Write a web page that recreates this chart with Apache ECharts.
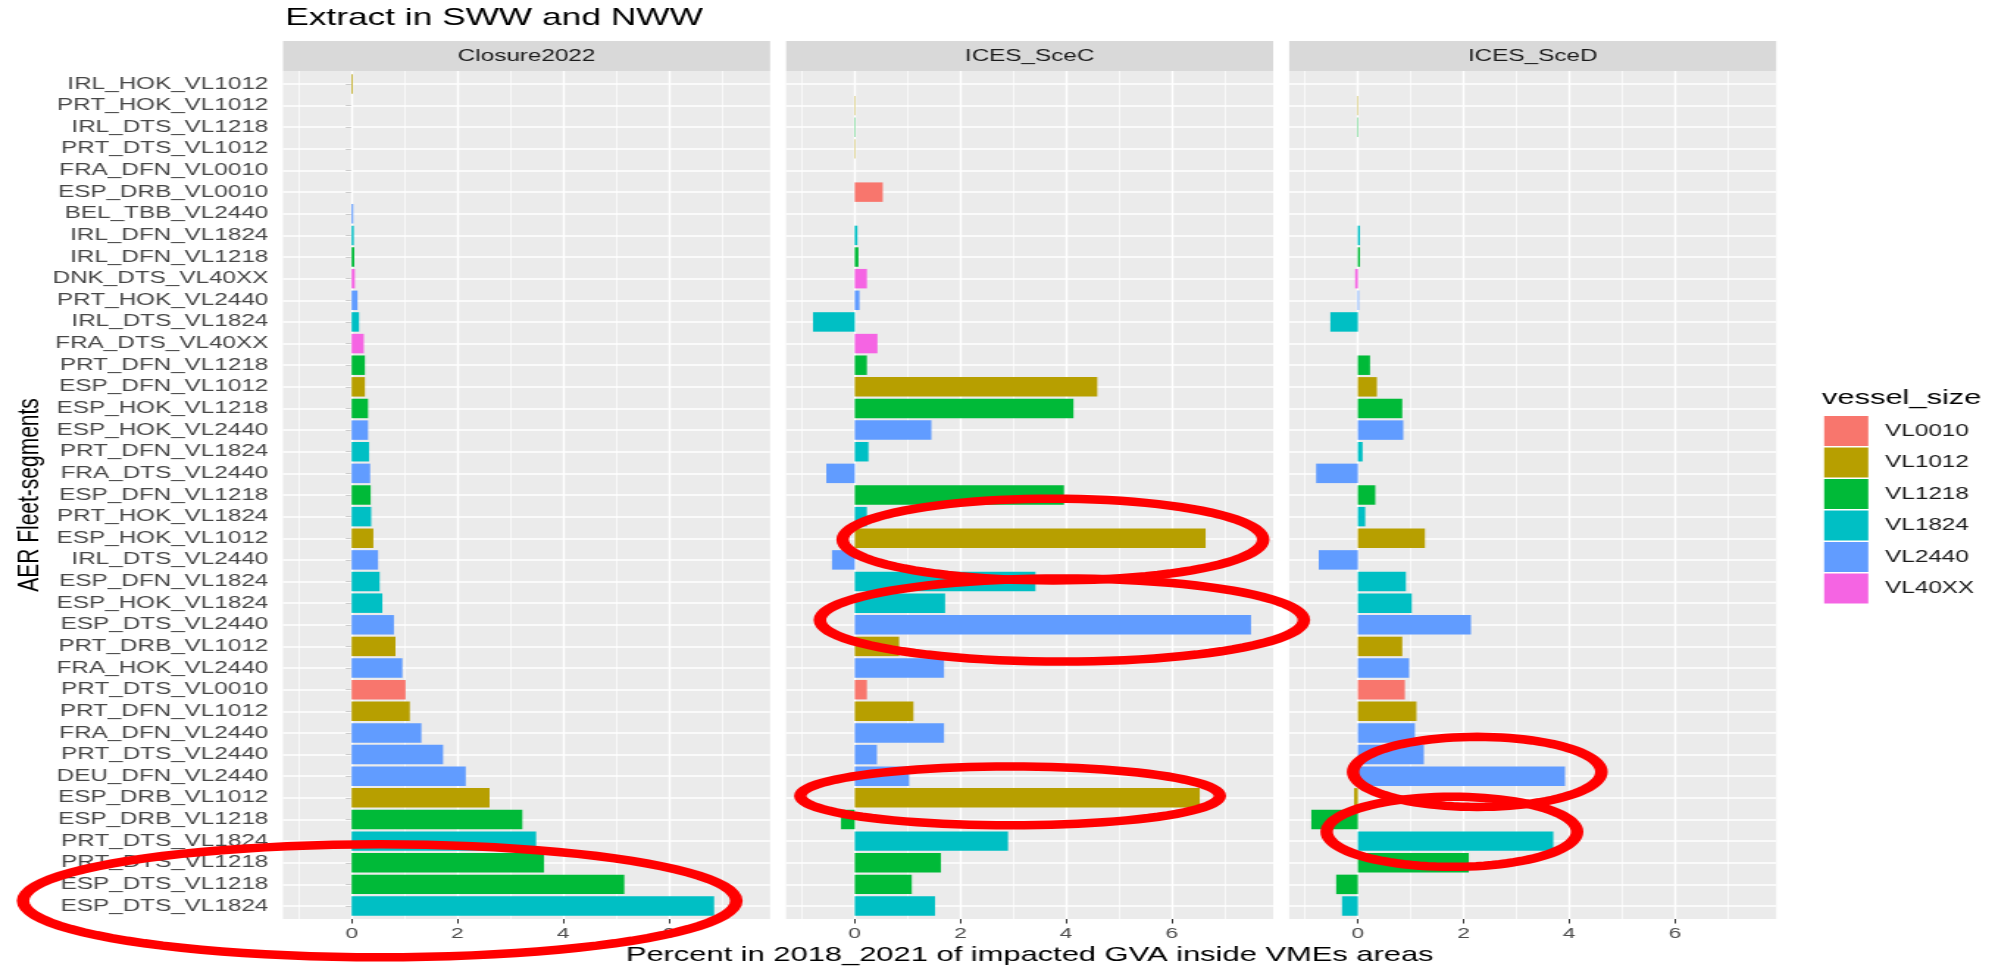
<!DOCTYPE html>
<html>
<head>
<meta charset="utf-8">
<title>Extract in SWW and NWW</title>
<script src="https://cdn.jsdelivr.net/npm/echarts@6/dist/echarts.min.js"></script>
<style>
  html, body { margin: 0; padding: 0; overflow: hidden; background: #ffffff; width: 1995px; height: 969px; }
  #chart { position: absolute; left: 0; top: 0; width: 1357px; height: 969px; transform-origin: 0 0; }
</style>
</head>
<body>
<div id="chart"></div>
<script>
// ---- data -------------------------------------------------------------
const categories = [
  'IRL_HOK_VL1012', 'PRT_HOK_VL1012', 'IRL_DTS_VL1218', 'PRT_DTS_VL1012', 'FRA_DFN_VL0010',
  'ESP_DRB_VL0010', 'BEL_TBB_VL2440', 'IRL_DFN_VL1824', 'IRL_DFN_VL1218', 'DNK_DTS_VL40XX',
  'PRT_HOK_VL2440', 'IRL_DTS_VL1824', 'FRA_DTS_VL40XX', 'PRT_DFN_VL1218', 'ESP_DFN_VL1012',
  'ESP_HOK_VL1218', 'ESP_HOK_VL2440', 'PRT_DFN_VL1824', 'FRA_DTS_VL2440', 'ESP_DFN_VL1218',
  'PRT_HOK_VL1824', 'ESP_HOK_VL1012', 'IRL_DTS_VL2440', 'ESP_DFN_VL1824', 'ESP_HOK_VL1824',
  'ESP_DTS_VL2440', 'PRT_DRB_VL1012', 'FRA_HOK_VL2440', 'PRT_DTS_VL0010', 'PRT_DFN_VL1012',
  'FRA_DFN_VL2440', 'PRT_DTS_VL2440', 'DEU_DFN_VL2440', 'ESP_DRB_VL1012', 'ESP_DRB_VL1218',
  'PRT_DTS_VL1824', 'PRT_DTS_VL1218', 'ESP_DTS_VL1218', 'ESP_DTS_VL1824'
];

const vesselSizes = ['VL0010', 'VL1012', 'VL1218', 'VL1824', 'VL2440', 'VL40XX'];
const sizeColors  = ['#F8766D', '#B79F00', '#00BA38', '#00BFC4', '#619CFF', '#F564E3'];

const scenarios = ['Closure2022', 'ICES_SceC', 'ICES_SceD'];

const closure2022 = [0.02, 0, 0, 0, 0, 0, 0.03, 0.04, 0.05, 0.06, 0.11, 0.14, 0.23, 0.25, 0.25,
  0.31, 0.31, 0.33, 0.35, 0.36, 0.37, 0.41, 0.50, 0.53, 0.58, 0.80, 0.83, 0.96, 1.02, 1.10,
  1.32, 1.73, 2.16, 2.61, 3.23, 3.49, 3.64, 5.16, 6.86];

const icesSceC = [0, 0.01, 0.01, 0.01, 0, 0.53, 0, 0.05, 0.07, 0.23, 0.09, -0.79, 0.43, 0.23, 4.59,
  4.14, 1.45, 0.26, -0.54, 3.96, 0.23, 6.64, -0.43, 3.42, 1.71, 7.50, 0.84, 1.69, 0.23, 1.11,
  1.69, 0.42, 1.03, 6.53, -0.26, 2.90, 1.63, 1.08, 1.52];

const icesSceD = [0, 0.01, 0.01, 0, 0, 0, 0, 0.04, 0.04, -0.05, 0.02, -0.52, 0, 0.23, 0.36,
  0.84, 0.86, 0.09, -0.79, 0.33, 0.14, 1.27, -0.74, 0.91, 1.02, 2.14, 0.84, 0.97, 0.89, 1.11,
  1.08, 1.25, 3.92, -0.07, -0.88, 3.70, 2.10, -0.41, -0.30];

const xTickValues  = [0, 2, 4, 6];
const xGridValues  = [-1, 0, 1, 2, 3, 4, 5, 6, 7];

// highlighted groups: panel, centre row (category index), centre value, half-width (value units), half-height (rows)
const highlightRings = [
  { panel: 0, row: 37.76, x: 0.53, rx: 6.75, ry: 2.61 },
  { panel: 1, row: 21.06, x: 3.75, rx: 3.98, ry: 1.89 },
  { panel: 1, row: 24.78, x: 3.92, rx: 4.58, ry: 1.92 },
  { panel: 1, row: 32.91, x: 2.94, rx: 3.97, ry: 1.36 },
  { panel: 2, row: 31.80, x: 2.26, rx: 2.35, ry: 1.62 },
  { panel: 2, row: 34.57, x: 1.78, rx: 2.37, ry: 1.62 }
];

// ---- layout -----------------------------------------------------------
const PAGE_W = 1995, BOX_W = 1357;
const STRETCH = PAGE_W / BOX_W;
const FONT = '"Liberation Sans", Arial, Helvetica, sans-serif';
const PANEL_TOP = 71, PANEL_H = 848, PANEL_W = 331.3;
const PANEL_LEFTS = [192.5, 534.7, 876.9];
const ROW_PAD = 0.6;                       // distance from panel edge to first/last row centre, in rows
const ROW_H = PANEL_H / (categories.length - 1 + 2 * ROW_PAD);
const STRIP_H = 30;
const N = scenarios.length;

const el = document.getElementById('chart');
el.style.transform = 'scaleX(' + STRETCH + ')';

const panelValues = [closure2022, icesSceC, icesSceD];

// shared x range with 5% padding on both sides
const allValues = panelValues.flat();
const lo = Math.min(...allValues), hi = Math.max(...allValues);
const pad = (hi - lo) * 0.05;
const xMin = lo - pad, xMax = hi + pad;

const sizeOf = name => name.slice(name.lastIndexOf('_') + 1);

// grids 0..2: panel backgrounds (full height); grids 3..5: bar rows
const grids = [];
PANEL_LEFTS.forEach(left => grids.push({
  left: left, top: PANEL_TOP, width: PANEL_W, height: PANEL_H,
  show: true, backgroundColor: '#EBEBEB', borderWidth: 0, containLabel: false
}));
PANEL_LEFTS.forEach(left => grids.push({
  left: left, top: PANEL_TOP + (ROW_PAD - 0.5) * ROW_H, width: PANEL_W, height: categories.length * ROW_H,
  show: false, containLabel: false
}));

const xAxes = [], yAxes = [];
scenarios.forEach((s, i) => {
  xAxes.push({
    type: 'value', gridIndex: i, min: xMin, max: xMax,
    axisLine: { show: false }, splitLine: { show: false },
    axisTick: { show: true, customValues: xTickValues, length: 4.5, lineStyle: { color: '#333333', width: 1 } },
    axisLabel: { customValues: xTickValues, color: '#4D4D4D', fontSize: 15.5, margin: 7, fontFamily: FONT }
  });
  yAxes.push({ type: 'value', gridIndex: i, min: 0, max: 1, show: false });
});
scenarios.forEach((s, i) => {
  xAxes.push({ type: 'value', gridIndex: N + i, min: xMin, max: xMax, show: false });
  yAxes.push({
    type: 'category', gridIndex: N + i, data: categories, inverse: true,
    axisLine: { show: false }, splitLine: { show: false },
    axisTick: { show: i === 0, alignWithLabel: true, length: 4, lineStyle: { color: '#333333', width: 1 } },
    axisLabel: { show: i === 0, interval: 0, color: '#474747', fontSize: 16.5, margin: 10, fontFamily: FONT },
    name: i === 0 ? 'AER Fleet-segments' : '',
    nameLocation: 'middle', nameGap: 162,
    nameTextStyle: { fontSize: 21, color: '#000000', fontFamily: FONT }
  });
});

const series = [];

// white panel grid: major vertical lines on even values, minor on odd
scenarios.forEach((s, p) => {
  series.push({
    type: 'line', name: 'vgrid-' + s, xAxisIndex: p, yAxisIndex: p, data: [],
    silent: true, z: 1,
    markLine: {
      silent: true, z: 1, symbol: ['none', 'none'], label: { show: false },
      emphasis: { disabled: true }, animation: false,
      data: xGridValues.map(v => ({
        xAxis: v, lineStyle: { color: '#FFFFFF', width: v % 2 === 0 ? 1.4 : 0.7, type: 'solid' }
      }))
    }
  });
});

// one horizontal line through each fleet segment
scenarios.forEach((s, p) => {
  series.push({
    type: 'line', name: 'hgrid-' + s, xAxisIndex: N + p, yAxisIndex: N + p, data: [],
    silent: true, z: 1,
    markLine: {
      silent: true, z: 1, symbol: ['none', 'none'], label: { show: false },
      emphasis: { disabled: true }, animation: false,
      data: categories.map(c => ({ yAxis: c, lineStyle: { color: '#FFFFFF', width: 1.5, type: 'solid' } }))
    }
  });
});

// bars, one series per vessel size in each panel
scenarios.forEach((s, p) => {
  vesselSizes.forEach((size, k) => {
    series.push({
      type: 'bar', name: size, xAxisIndex: N + p, yAxisIndex: N + p, stack: 'panel' + p,
      barCategoryGap: '10%', z: 3, silent: true,
      itemStyle: { color: sizeColors[k] },
      emphasis: { disabled: true },
      data: categories.map((c, j) => sizeOf(c) === size ? panelValues[p][j] : null)
    });
  });
});

const chart = echarts.init(el);
chart.setOption({
  animation: false,
  backgroundColor: '#FFFFFF',
  title: {
    text: 'Extract in SWW and NWW', left: 194, top: 6, padding: 0,
    textStyle: { fontSize: 24, fontWeight: 'normal', color: '#000000', fontFamily: FONT }
  },
  legend: {
    data: vesselSizes, orient: 'vertical', left: 1240.8, top: 416, padding: 0,
    itemWidth: 30, itemHeight: 30, itemGap: 1.5, icon: 'rect', selectedMode: false,
    textStyle: { fontSize: 16.5, color: '#1A1A1A', fontFamily: FONT, padding: [0, 0, 0, 6.5] }
  },
  grid: grids,
  xAxis: xAxes,
  yAxis: yAxes,
  series: series
});

// ---- strips, titles and highlight rings ------------------------------
const graphics = [];
scenarios.forEach((s, p) => {
  const left = PANEL_LEFTS[p];
  graphics.push({
    type: 'rect', silent: true, z: 2,
    shape: { x: left, y: PANEL_TOP - STRIP_H, width: PANEL_W, height: STRIP_H },
    style: { fill: '#D9D9D9' }
  });
  graphics.push({
    type: 'text', silent: true, z: 3,
    style: {
      text: s, x: left + PANEL_W / 2, y: PANEL_TOP - STRIP_H / 2,
      align: 'center', verticalAlign: 'middle', textAlign: 'center', textVerticalAlign: 'middle',
      fontSize: 16.5, fontFamily: FONT, fill: '#1A1A1A'
    }
  });
});

graphics.push({
  type: 'text', silent: true, z: 3,
  style: {
    text: 'Percent in 2018_2021 of impacted GVA inside VMEs areas',
    x: PANEL_LEFTS[1] + PANEL_W / 2, y: 955,
    align: 'center', verticalAlign: 'middle', textAlign: 'center', textVerticalAlign: 'middle',
    fontSize: 21, fontFamily: FONT, fill: '#000000'
  }
});

graphics.push({
  type: 'text', silent: true, z: 3,
  style: {
    text: 'vessel_size', x: 1239.2, y: 398.5,
    align: 'left', verticalAlign: 'middle', textAlign: 'left', textVerticalAlign: 'middle',
    fontSize: 21, fontFamily: FONT, fill: '#000000'
  }
});

highlightRings.forEach(r => {
  const finder = { xAxisIndex: N + r.panel, yAxisIndex: N + r.panel };
  const p0 = chart.convertToPixel(finder, [r.x, categories[0]]);
  const p1 = chart.convertToPixel(finder, [r.x + r.rx, categories[1]]);
  const band = p1[1] - p0[1];
  const cx = p0[0];
  const cy = p0[1] + r.row * band;
  const ax = p1[0] - p0[0];
  const ay = r.ry * band;
  const pts = [];
  const n = 96;
  for (let i = 0; i < n; i++) {
    const t = (i / n) * Math.PI * 2;
    pts.push([cx + ax * Math.cos(t), cy + ay * Math.sin(t)]);
  }
  graphics.push({
    type: 'polygon', silent: true, z: 100,
    shape: { points: pts },
    style: { fill: 'none', stroke: '#FF0000', lineWidth: 8.5 }
  });
});

chart.setOption({ graphic: graphics });
</script>
</body>
</html>
